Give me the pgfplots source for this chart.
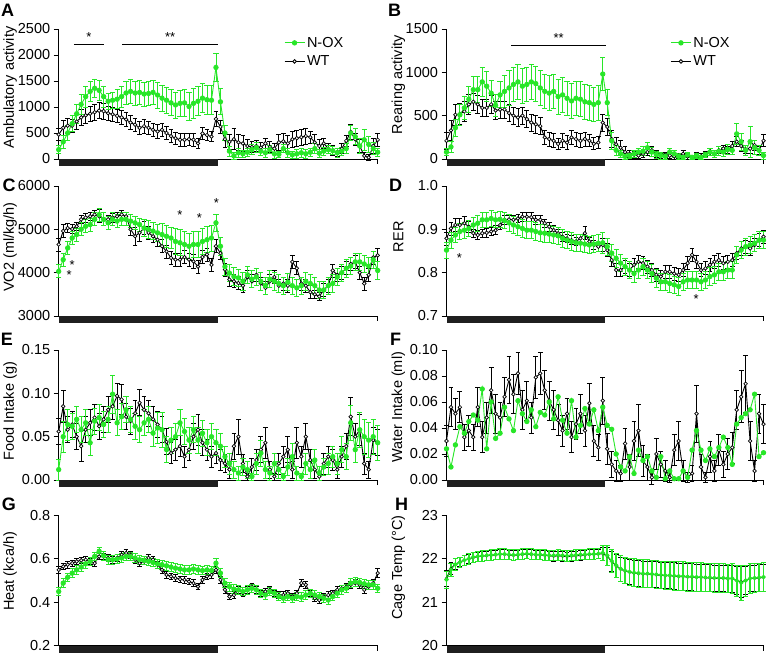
\documentclass[border=0pt]{standalone}
\usepackage{fontspec}
\setmainfont{Liberation Sans}
\usepackage{pgfplots}
\usepackage{pgfplotstable}
\pgfplotsset{compat=1.18}
\definecolor{ng}{RGB}{40,230,40}

\pgfplotstableread{
g ge k ke
180 80 470 120
330 120 600 150
500 150 640 150
680 150 640 130
870 180 720 150
1050 200 800 150
1200 200 840 150
1300 200 870 150
1360 180 900 150
1320 200 930 150
1200 200 920 150
1110 150 880 130
1130 150 860 130
1150 180 830 130
1200 200 800 130
1270 220 760 130
1300 230 700 130
1270 230 660 130
1280 230 600 130
1250 230 630 130
1260 230 600 130
1280 230 560 130
1230 250 530 130
1170 250 560 130
1130 250 500 130
1080 250 440 120
1040 250 400 120
1070 250 370 120
1080 260 370 120
1010 270 380 120
1070 280 370 120
1110 280 300 100
1170 280 490 120
1140 280 460 100
1130 280 430 100
1760 270 770 150
1100 250 620 130
500 150 380 150
150 100 330 150
60 60 380 200
120 80 320 150
100 70 300 150
130 80 250 120
180 100 230 100
220 100 250 100
150 80 220 100
120 80 300 100
180 80 230 100
100 80 200 100
90 60 320 150
200 80 340 150
120 80 300 150
80 60 380 150
100 80 400 150
120 80 420 150
100 80 440 150
130 80 420 120
200 100 320 150
110 80 250 120
150 80 300 100
180 80 200 100
160 80 160 100
120 80 130 80
150 80 200 100
200 100 350 100
500 150 520 150
430 150 380 120
250 150 250 120
370 200 60 60
280 150 30 50
200 120 250 150
130 80 370 120
}\tA

\pgfplotstableread{
g ge k ke
80 40 210 100
140 60 330 120
360 100 510 120
510 120 520 120
590 130 550 120
690 150 630 120
800 150 660 100
800 150 630 100
890 170 590 100
840 170 590 100
760 150 630 100
620 130 560 100
740 150 570 100
780 180 570 100
820 200 530 100
860 200 500 100
890 200 480 100
840 200 500 100
860 200 460 100
890 200 420 100
870 200 400 100
820 200 380 100
780 200 250 80
760 200 230 80
780 200 210 80
720 200 175 60
740 200 210 80
700 200 190 80
670 200 250 80
700 200 230 80
690 200 210 80
660 200 230 80
650 200 210 70
630 200 175 70
650 200 190 70
980 190 420 100
650 150 370 100
210 100 230 100
100 60 170 80
60 40 130 80
30 30 80 60
40 30 60 40
60 40 50 40
80 40 40 30
90 50 60 40
130 60 80 40
80 50 100 40
50 40 60 40
40 40 40 30
30 30 50 30
80 40 40 30
60 40 30 30
30 30 40 30
20 20 60 40
50 30 30 30
20 20 20 20
40 30 50 30
20 20 30 30
50 30 60 30
80 40 80 40
60 40 60 40
90 50 100 40
80 50 120 40
110 60 100 40
100 50 150 50
290 120 200 60
200 100 150 60
100 60 110 50
200 180 120 60
130 80 160 60
100 60 100 50
40 40 210 70
}\tB

\pgfplotstableread{
g ge k ke
4030 150 4650 150
4300 150 4960 150
4570 150 5030 100
4800 150 5010 100
4880 150 5070 100
5000 150 5230 100
5070 150 5270 100
5110 150 5300 100
5230 150 5340 100
5340 150 5300 150
5230 150 5230 150
5150 150 5230 100
5230 150 5270 100
5190 150 5300 100
5230 150 5340 100
5230 150 5300 100
5190 150 5000 150
5150 150 4840 200
5110 150 4920 200
5030 200 5030 150
5000 200 4920 150
4960 200 4840 150
4920 200 4760 150
4880 250 4610 150
4840 250 4490 150
4800 250 4340 150
4720 300 4300 150
4690 300 4300 150
4650 300 4360 150
4610 300 4300 150
4650 300 4260 150
4650 300 4140 150
4720 300 4360 150
4760 300 4420 150
4800 300 4180 150
5150 200 4610 150
4610 200 4450 150
4140 200 4070 150
3990 200 3840 150
3910 200 3800 150
3880 200 3760 150
3800 200 3700 150
3950 200 3900 150
3850 200 3800 150
3900 200 3950 150
3800 200 3750 150
3700 200 3650 150
3850 200 3800 150
3800 200 3900 150
3750 200 3700 150
3700 200 3750 150
3780 200 3700 150
3700 200 4250 150
3650 200 4100 150
3700 200 3750 150
3800 200 3700 150
3750 200 3550 150
3700 200 3500 100
3600 200 3450 100
3600 200 3600 150
3700 200 3700 150
3750 200 4050 150
3900 200 3950 150
4000 200 4000 150
4100 200 4100 150
4150 200 4200 150
4250 200 4250 150
4250 200 4000 150
4200 200 3750 150
4150 200 3950 150
4300 200 4350 150
4050 200 4400 150
}\tC

\pgfplotstableread{
g ge k ke
0.852 0.018 0.879 0.015
0.875 0.018 0.902 0.015
0.887 0.018 0.910 0.015
0.895 0.018 0.910 0.015
0.898 0.018 0.914 0.015
0.902 0.018 0.906 0.012
0.910 0.018 0.891 0.010
0.914 0.018 0.887 0.010
0.922 0.018 0.891 0.010
0.922 0.018 0.892 0.010
0.925 0.018 0.895 0.010
0.922 0.018 0.898 0.010
0.923 0.018 0.910 0.010
0.920 0.018 0.922 0.010
0.915 0.020 0.923 0.010
0.910 0.020 0.922 0.010
0.906 0.020 0.925 0.010
0.902 0.020 0.929 0.010
0.898 0.020 0.929 0.010
0.898 0.020 0.928 0.010
0.895 0.020 0.922 0.010
0.892 0.020 0.922 0.010
0.891 0.020 0.914 0.010
0.889 0.020 0.906 0.010
0.887 0.020 0.898 0.010
0.885 0.020 0.891 0.010
0.879 0.020 0.883 0.010
0.875 0.020 0.879 0.010
0.872 0.020 0.875 0.010
0.869 0.020 0.872 0.010
0.868 0.020 0.879 0.010
0.866 0.020 0.891 0.015
0.864 0.020 0.872 0.010
0.866 0.020 0.864 0.010
0.868 0.020 0.860 0.010
0.869 0.025 0.864 0.015
0.860 0.020 0.852 0.015
0.845 0.020 0.829 0.015
0.833 0.020 0.806 0.015
0.822 0.020 0.806 0.015
0.814 0.020 0.814 0.015
0.806 0.020 0.806 0.015
0.798 0.020 0.818 0.015
0.806 0.020 0.825 0.015
0.814 0.020 0.822 0.015
0.806 0.020 0.814 0.015
0.798 0.020 0.806 0.015
0.787 0.020 0.795 0.015
0.779 0.020 0.791 0.015
0.779 0.020 0.802 0.015
0.775 0.020 0.802 0.015
0.772 0.020 0.798 0.015
0.768 0.020 0.795 0.015
0.779 0.020 0.806 0.015
0.783 0.020 0.822 0.015
0.783 0.020 0.841 0.015
0.783 0.020 0.825 0.015
0.779 0.020 0.806 0.015
0.783 0.020 0.810 0.015
0.791 0.020 0.818 0.015
0.795 0.020 0.825 0.015
0.802 0.020 0.829 0.015
0.802 0.020 0.822 0.015
0.806 0.020 0.825 0.015
0.806 0.020 0.829 0.015
0.841 0.020 0.845 0.015
0.852 0.020 0.856 0.015
0.860 0.020 0.860 0.015
0.864 0.020 0.856 0.015
0.868 0.020 0.864 0.015
0.875 0.020 0.875 0.015
0.875 0.020 0.883 0.015
}\tD

\pgfplotstableread{
g ge k ke
0.012 0.012 0.056 0.015
0.050 0.018 0.085 0.018
0.064 0.018 0.058 0.015
0.062 0.015 0.064 0.015
0.070 0.015 0.050 0.015
0.058 0.015 0.039 0.018
0.066 0.015 0.058 0.015
0.043 0.015 0.066 0.015
0.068 0.015 0.072 0.015
0.072 0.015 0.062 0.015
0.064 0.015 0.070 0.015
0.070 0.015 0.081 0.015
0.099 0.022 0.085 0.015
0.066 0.015 0.097 0.015
0.073 0.015 0.093 0.017
0.081 0.015 0.073 0.015
0.070 0.015 0.068 0.015
0.062 0.015 0.077 0.015
0.058 0.015 0.089 0.015
0.066 0.015 0.081 0.015
0.070 0.015 0.077 0.015
0.054 0.015 0.070 0.015
0.060 0.018 0.064 0.015
0.058 0.020 0.058 0.015
0.035 0.015 0.044 0.015
0.046 0.015 0.031 0.012
0.050 0.015 0.035 0.012
0.066 0.015 0.039 0.012
0.056 0.015 0.027 0.012
0.046 0.015 0.035 0.012
0.058 0.015 0.050 0.015
0.046 0.015 0.058 0.018
0.054 0.015 0.043 0.015
0.043 0.015 0.035 0.012
0.050 0.015 0.027 0.012
0.043 0.015 0.031 0.012
0.039 0.015 0.023 0.012
0.027 0.012 0.019 0.010
0.019 0.012 0.012 0.010
0.012 0.010 0.039 0.015
0.008 0.008 0.050 0.020
0.015 0.010 0.019 0.010
0.012 0.010 0.004 0.004
0.004 0.004 0.015 0.010
0.019 0.012 0.023 0.012
0.031 0.015 0.035 0.015
0.012 0.010 0.043 0.018
0.008 0.008 0.012 0.010
0.019 0.012 0.004 0.004
0.012 0.010 0.019 0.012
0.004 0.004 0.027 0.012
0.015 0.010 0.035 0.015
0.027 0.015 0.012 0.010
0.008 0.008 0.043 0.018
0.004 0.004 0.027 0.012
0.019 0.012 0.050 0.015
0.012 0.010 0.023 0.012
0.023 0.012 0.012 0.010
0.008 0.008 0.004 0.004
0.015 0.010 0.019 0.012
0.019 0.012 0.027 0.012
0.027 0.012 0.023 0.012
0.019 0.012 0.012 0.010
0.035 0.015 0.027 0.012
0.027 0.015 0.039 0.015
0.066 0.020 0.073 0.022
0.035 0.015 0.050 0.015
0.058 0.020 0.058 0.018
0.050 0.020 0.019 0.012
0.046 0.020 0.012 0.010
0.050 0.020 0.046 0.015
0.043 0.020 0.043 0.015
}\tE

\pgfplotstableread{
g k ke
0.024 0.030 0.012
0.010 0.056 0.015
0.027 0.051 0.012
0.041 0.056 0.012
0.036 0.033 0.010
0.045 0.038 0.012
0.050 0.033 0.010
0.046 0.056 0.015
0.070 0.033 0.012
0.024 0.048 0.012
0.060 0.069 0.018
0.032 0.051 0.015
0.036 0.048 0.012
0.056 0.064 0.015
0.047 0.077 0.018
0.038 0.066 0.015
0.061 0.082 0.016
0.051 0.054 0.015
0.045 0.061 0.015
0.054 0.048 0.012
0.041 0.079 0.016
0.052 0.082 0.016
0.050 0.069 0.015
0.060 0.061 0.015
0.047 0.054 0.015
0.064 0.046 0.012
0.046 0.038 0.012
0.036 0.051 0.012
0.061 0.033 0.012
0.033 0.043 0.012
0.042 0.051 0.015
0.055 0.038 0.012
0.043 0.059 0.015
0.054 0.030 0.012
0.038 0.025 0.010
0.056 0.061 0.018
0.042 0.024 0.012
0.039 0.012 0.010
0.020 0.007 0.008
0.010 0.005 0.006
0.007 0.028 0.012
0.018 0.010 0.010
0.005 0.030 0.015
0.023 0.038 0.020
0.015 0.015 0.012
0.018 0.010 0.010
0.007 0.002 0.005
0.002 0.020 0.012
0.018 0.012 0.010
0.001 0.007 0.008
0.007 0.002 0.004
0.001 0.023 0.012
0.001 0.030 0.015
0.007 0.007 0.008
0.002 0.002 0.004
0.023 0.005 0.006
0.038 0.051 0.022
0.023 0.010 0.010
0.015 0.002 0.004
0.024 0.018 0.012
0.018 0.007 0.008
0.025 0.023 0.012
0.033 0.012 0.010
0.025 0.020 0.012
0.012 0.025 0.012
0.043 0.054 0.015
0.048 0.064 0.020
0.051 0.074 0.022
0.054 0.030 0.015
0.066 0.007 0.008
0.018 0.051 0.015
0.021 0.043 0.015
}\tF

\pgfplotstableread{
g ge k ke
0.449 0.020 0.549 0.018
0.488 0.020 0.565 0.015
0.515 0.020 0.573 0.015
0.534 0.020 0.580 0.015
0.549 0.020 0.588 0.015
0.562 0.020 0.593 0.015
0.577 0.020 0.596 0.015
0.588 0.020 0.588 0.015
0.611 0.020 0.580 0.015
0.635 0.020 0.611 0.015
0.614 0.020 0.611 0.015
0.596 0.020 0.604 0.015
0.596 0.020 0.596 0.015
0.599 0.020 0.604 0.015
0.604 0.020 0.619 0.015
0.611 0.020 0.627 0.015
0.611 0.020 0.619 0.015
0.604 0.020 0.596 0.015
0.596 0.020 0.580 0.015
0.593 0.020 0.588 0.015
0.588 0.020 0.604 0.015
0.583 0.020 0.596 0.015
0.577 0.020 0.573 0.015
0.573 0.020 0.549 0.015
0.568 0.020 0.526 0.015
0.562 0.020 0.519 0.015
0.557 0.020 0.511 0.015
0.553 0.020 0.506 0.015
0.549 0.020 0.503 0.015
0.549 0.020 0.495 0.015
0.553 0.020 0.488 0.015
0.549 0.020 0.472 0.015
0.546 0.020 0.503 0.015
0.549 0.020 0.519 0.015
0.546 0.020 0.526 0.015
0.580 0.020 0.549 0.015
0.534 0.020 0.503 0.015
0.488 0.020 0.457 0.015
0.472 0.020 0.426 0.015
0.460 0.020 0.433 0.015
0.457 0.020 0.457 0.015
0.449 0.020 0.441 0.015
0.457 0.020 0.457 0.015
0.464 0.020 0.472 0.015
0.457 0.020 0.457 0.015
0.441 0.020 0.441 0.015
0.433 0.020 0.449 0.015
0.449 0.020 0.457 0.015
0.441 0.020 0.441 0.015
0.426 0.020 0.433 0.015
0.418 0.020 0.433 0.015
0.426 0.020 0.441 0.015
0.418 0.020 0.426 0.015
0.426 0.020 0.441 0.015
0.423 0.020 0.488 0.015
0.433 0.020 0.480 0.015
0.441 0.020 0.441 0.015
0.433 0.020 0.418 0.015
0.426 0.020 0.410 0.015
0.418 0.020 0.426 0.015
0.410 0.020 0.433 0.015
0.426 0.020 0.441 0.015
0.441 0.020 0.457 0.015
0.457 0.020 0.464 0.015
0.464 0.020 0.472 0.015
0.488 0.020 0.480 0.015
0.495 0.020 0.488 0.015
0.491 0.020 0.480 0.015
0.485 0.020 0.457 0.015
0.480 0.020 0.472 0.015
0.480 0.020 0.488 0.015
0.464 0.020 0.534 0.020
}\tG

\pgfplotstableread{
g ge k ke
21.52 0.20 21.55 0.18
21.75 0.15 21.78 0.13
21.87 0.13 21.88 0.12
21.92 0.12 21.93 0.11
21.97 0.12 21.97 0.11
22.00 0.12 22.00 0.11
22.04 0.12 22.03 0.11
22.06 0.12 22.05 0.11
22.07 0.12 22.06 0.11
22.08 0.12 22.07 0.11
22.09 0.12 22.08 0.11
22.10 0.12 22.09 0.11
22.11 0.12 22.10 0.11
22.11 0.12 22.10 0.11
22.10 0.12 22.09 0.11
22.09 0.12 22.08 0.11
22.10 0.12 22.09 0.11
22.11 0.12 22.10 0.11
22.12 0.12 22.11 0.11
22.11 0.12 22.10 0.11
22.10 0.12 22.09 0.11
22.10 0.12 22.09 0.11
22.09 0.12 22.08 0.11
22.08 0.12 22.07 0.11
22.08 0.12 22.06 0.11
22.09 0.12 22.07 0.11
22.08 0.12 22.06 0.11
22.07 0.12 22.05 0.11
22.08 0.12 22.06 0.11
22.09 0.12 22.07 0.11
22.10 0.12 22.08 0.11
22.10 0.12 22.09 0.11
22.11 0.12 22.10 0.11
22.11 0.12 22.10 0.11
22.12 0.12 22.11 0.11
22.14 0.18 22.12 0.15
22.08 0.22 22.06 0.20
21.95 0.26 21.94 0.24
21.85 0.28 21.84 0.26
21.77 0.30 21.76 0.28
21.73 0.30 21.72 0.28
21.70 0.31 21.69 0.29
21.68 0.32 21.67 0.30
21.67 0.32 21.66 0.30
21.66 0.32 21.65 0.30
21.66 0.32 21.65 0.30
21.65 0.32 21.64 0.30
21.64 0.32 21.63 0.30
21.63 0.32 21.62 0.30
21.62 0.32 21.61 0.30
21.62 0.32 21.61 0.30
21.61 0.33 21.60 0.31
21.60 0.33 21.59 0.31
21.60 0.33 21.59 0.31
21.59 0.33 21.58 0.31
21.59 0.33 21.58 0.31
21.58 0.33 21.57 0.31
21.58 0.33 21.57 0.31
21.57 0.33 21.56 0.31
21.57 0.33 21.56 0.31
21.56 0.33 21.55 0.31
21.56 0.33 21.55 0.31
21.56 0.33 21.55 0.31
21.55 0.33 21.54 0.31
21.55 0.34 21.54 0.31
21.50 0.36 21.50 0.33
21.45 0.40 21.47 0.36
21.50 0.36 21.50 0.33
21.55 0.34 21.55 0.31
21.56 0.33 21.55 0.31
21.57 0.33 21.56 0.31
21.58 0.33 21.57 0.31
}\tH

\pgfplotsset{
  panel/.style={
    scale only axis, width=319pt, height=130pt, xmin=0, xmax=71,
    axis x line*=bottom, axis y line*=left,
    axis line style={line width=0.9pt,-},
    xtick={71}, xticklabels={},
    tick align=outside, major tick length=5pt,
    tick style={line width=0.9pt, black},
    clip=false, scaled y ticks=false,
    ticklabel style={font=\fontsize{14.5}{16}\selectfont},
    /pgf/number format/assume math mode=true,
    /pgf/number format/1000 sep={},
    every axis y label/.style={at={(axis description cs:-0.152,#1)}, rotate=90, anchor=center, font=\fontsize{14.5}{16}\selectfont},
  },
  panel/.default=0.55,
  rpanel/.style={panel=#1, width=317pt},
  rpanel/.default=0.55,
  gser/.style={color=ng, mark=*, mark size=2.2pt, line width=0.9pt,
    mark options={fill=ng, draw=ng},
    error bars/y dir=both, error bars/y explicit,
    error bars/error bar style={line width=0.9pt, ng},
    error bars/error mark options={rotate=90, ng, mark size=2.6pt, line width=0.8pt}},
  kser/.style={color=black, mark=*, mark size=1.8pt, line width=0.9pt,
    mark options={fill=white, draw=black, line width=0.7pt},
    error bars/y dir=both, error bars/y explicit,
    error bars/error bar style={line width=0.8pt, black},
    error bars/error mark options={rotate=90, black, mark size=2.4pt, line width=0.8pt}},
  leg/.style={
    legend style={at={(axis description cs:0.706,0.955)}, anchor=north west, draw=none, fill=none,
      font=\fontsize{14.5}{16}\selectfont, row sep=3pt, inner sep=0pt, legend cell align=left},
    legend image code/.code={\draw[mark repeat=2,mark phase=2,##1] plot coordinates {(0pt,0pt) (10pt,0pt) (20pt,0pt)};}
  },
}
\newcommand{\darkbar}{\fill[black!88] (rel axis cs:0,0) rectangle ([yshift=-7pt]rel axis cs:0.5,0);}

\begin{document}
\begin{tikzpicture}
\path[use as bounding box] (0,0) rectangle (768pt,654pt);

% A
\begin{axis}[panel=0.55, at={(58.7pt,495pt)}, anchor=south west, ymin=0, ymax=2500, ytick={0,500,...,2500}, ylabel={Ambulatory activity}, leg]
\addlegendimage{ng, mark=*, mark size=2.2pt, line width=0.9pt, mark options={fill=ng}}
\addlegendentry{N-OX}
\addlegendimage{black, mark=*, mark size=1.8pt, line width=0.9pt, mark options={fill=white}}
\addlegendentry{WT}
\addplot[kser, forget plot] table[x expr=\coordindex, y=k, y error=ke] {\tA};
\addplot[gser, forget plot] table[x expr=\coordindex, y=g, y error=ge] {\tA};
\darkbar
\draw[line width=0.8pt] (axis cs:3.4,2212) -- (axis cs:10.1,2212);
\draw[line width=0.8pt] (axis cs:14.1,2212) -- (axis cs:35.5,2212);
\node[font=\fontsize{13}{13}\selectfont, anchor=south, inner sep=1pt] at (axis cs:6.75,2230) {*};
\node[font=\fontsize{13}{13}\selectfont, anchor=south, inner sep=1pt] at (axis cs:24.8,2230) {**};
\end{axis}

% B
\begin{axis}[rpanel=0.57, at={(446.5pt,495pt)}, anchor=south west, ymin=0, ymax=1500, ytick={0,500,1000,1500}, ylabel={Rearing activity}, leg]
\addlegendimage{ng, mark=*, mark size=2.2pt, line width=0.9pt, mark options={fill=ng}}
\addlegendentry{N-OX}
\addlegendimage{black, mark=*, mark size=1.8pt, line width=0.9pt, mark options={fill=white}}
\addlegendentry{WT}
\addplot[kser, forget plot] table[x expr=\coordindex, y=k, y error=ke] {\tB};
\addplot[gser, forget plot] table[x expr=\coordindex, y=g, y error=ge] {\tB};
\darkbar
\draw[line width=0.8pt] (axis cs:14.5,1315) -- (axis cs:35.7,1315);
\node[font=\fontsize{13}{13}\selectfont, anchor=south, inner sep=1pt] at (axis cs:25.1,1325) {**};
\end{axis}

% C
\begin{axis}[panel=0.53, at={(58.7pt,338pt)}, anchor=south west, ymin=3000, ymax=6000, ytick={3000,4000,5000,6000}, ylabel={VO2 (ml/kg/h)}]
\addplot[kser] table[x expr=\coordindex, y=k, y error=ke] {\tC};
\addplot[gser] table[x expr=\coordindex, y=g, y error=ge] {\tC};
\darkbar
\node[font=\fontsize{13}{13}\selectfont] at (axis cs:3.0,4180) {*};
\node[font=\fontsize{13}{13}\selectfont] at (axis cs:2.3,3950) {*};
\node[font=\fontsize{13}{13}\selectfont] at (axis cs:27,5320) {*};
\node[font=\fontsize{13}{13}\selectfont] at (axis cs:31.3,5250) {*};
\node[font=\fontsize{13}{13}\selectfont] at (axis cs:35.1,5600) {*};
\end{axis}

% D
\begin{axis}[rpanel=0.61, at={(446.5pt,338pt)}, anchor=south west, ymin=0.7, ymax=1.0, ytick={0.7,0.8,0.9,1.0}, ylabel={RER},
  yticklabel style={/pgf/number format/fixed, /pgf/number format/fixed zerofill, /pgf/number format/precision=1}]
\addplot[kser] table[x expr=\coordindex, y=k, y error=ke] {\tD};
\addplot[gser] table[x expr=\coordindex, y=g, y error=ge] {\tD};
\darkbar
\node[font=\fontsize{13}{13}\selectfont] at (axis cs:2.9,0.834) {*};
\node[font=\fontsize{13}{13}\selectfont] at (axis cs:55.9,0.740) {*};
\end{axis}

% E
\begin{axis}[panel=0.53, at={(58.7pt,174pt)}, anchor=south west, ymin=0, ymax=0.15, ytick={0,0.05,0.10,0.15}, ylabel={Food Intake (g)},
  yticklabel style={/pgf/number format/fixed, /pgf/number format/fixed zerofill, /pgf/number format/precision=2}]
\addplot[kser] table[x expr=\coordindex, y=k, y error=ke] {\tE};
\addplot[gser] table[x expr=\coordindex, y=g, y error=ge] {\tE};
\darkbar
\end{axis}

% F
\begin{axis}[rpanel=0.56, at={(446.5pt,174pt)}, anchor=south west, ymin=0, ymax=0.10, ytick={0,0.02,0.04,0.06,0.08,0.10}, ylabel={Water Intake (ml)},
  yticklabel style={/pgf/number format/fixed, /pgf/number format/fixed zerofill, /pgf/number format/precision=2}]
\addplot[kser] table[x expr=\coordindex, y=k, y error=ke] {\tF};
\addplot[color=ng, mark=*, mark size=2.2pt, line width=0.9pt, mark options={fill=ng, draw=ng}] table[x expr=\coordindex, y=g] {\tF};
\darkbar
\end{axis}

% G
\begin{axis}[panel=0.57, at={(58.7pt,8.5pt)}, anchor=south west, ymin=0.2, ymax=0.8, ytick={0.2,0.4,0.6,0.8}, ylabel={Heat (kca/h)},
  yticklabel style={/pgf/number format/fixed, /pgf/number format/fixed zerofill, /pgf/number format/precision=1}]
\addplot[kser] table[x expr=\coordindex, y=k, y error=ke] {\tG};
\addplot[gser] table[x expr=\coordindex, y=g, y error=ge] {\tG};
\darkbar
\end{axis}

% H
\begin{axis}[rpanel=0.6, at={(446.5pt,8.5pt)}, anchor=south west, ymin=20, ymax=23, ytick={20,21,22,23}, ylabel={Cage Temp (°C)}]
\addplot[kser, mark size=1.2pt] table[x expr=\coordindex, y=k, y error=ke] {\tH};
\addplot[gser, mark size=1.8pt, error bars/error bar style={line width=1.6pt, ng}] table[x expr=\coordindex, y=g, y error=ge] {\tH};
\darkbar
\end{axis}

% panel letters
\node[font=\bfseries\fontsize{18}{18}\selectfont] at (7.5pt,644pt) {A};
\node[font=\bfseries\fontsize{18}{18}\selectfont] at (394.5pt,643.5pt) {B};
\node[font=\bfseries\fontsize{18}{18}\selectfont] at (9pt,469pt) {C};
\node[font=\bfseries\fontsize{18}{18}\selectfont] at (395.5pt,469pt) {D};
\node[font=\bfseries\fontsize{18}{18}\selectfont] at (7pt,315pt) {E};
\node[font=\bfseries\fontsize{18}{18}\selectfont] at (395.5pt,315pt) {F};
\node[font=\bfseries\fontsize{18}{18}\selectfont] at (9pt,150pt) {G};
\node[font=\bfseries\fontsize{18}{18}\selectfont] at (401.5pt,150pt) {H};
\end{tikzpicture}
\end{document}
